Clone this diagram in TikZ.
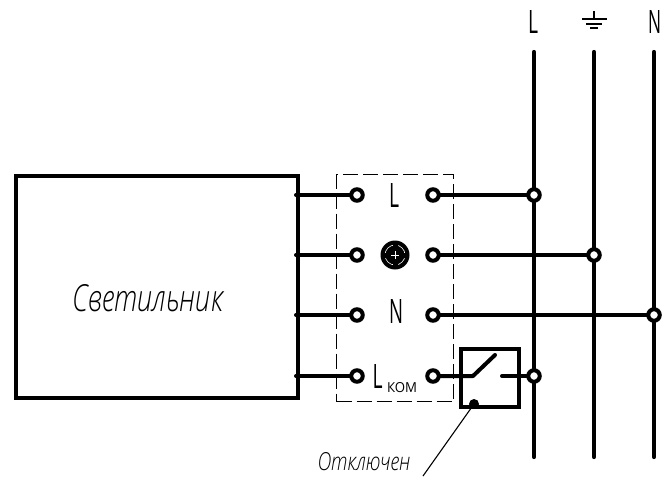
\documentclass[tikz,border=0pt]{standalone}
\usepackage{fontspec}
\setmainfont{Open Sans}
\newfontfamily\gost{Open Sans Light}[ItalicFont={Open Sans Light Italic}]
\tikzset{
 x=1pt,y=-1pt,
 wire/.style={line width=4pt,line cap=round,line join=round,black},
 bus/.style={line width=4.2pt,line cap=round,black},
 term/.style={circle,draw=black,line width=4pt,fill=white,minimum size=11.5pt,inner sep=0pt},
 lbl/.style={inner sep=0pt},
 ilbl/.style={inner sep=0pt,font=\gost},
}
\newcommand{\fit}[3]{\resizebox{#1pt}{#2pt}{#3}}
\begin{document}
\begin{tikzpicture}
\useasboundingbox (0,0) rectangle (663,476);
% buses
\coordinate (bLt) at (534,52); \coordinate (bLb) at (534,457);
\coordinate (bEt) at (594,52); \coordinate (bEb) at (594,457);
\coordinate (bNt) at (654,52); \coordinate (bNb) at (654,457);
\draw[bus] (bLt)--(bLb); \draw[bus] (bEt)--(bEb); \draw[bus] (bNt)--(bNb);
% luminaire
\node[draw=black,line width=4pt,minimum width=282pt,minimum height=222pt,inner sep=0pt,anchor=north west] (lum) at (14,174) {};
\node[ilbl] (lumt) at (148,298) {\fit{151}{27}{\itshape Светильник}};
% dashed
\node[draw=black,line width=1.1pt,dash pattern=on 15pt off 5pt,minimum width=117pt,minimum height=227pt,inner sep=0pt,anchor=north west] (dbox) at (336,174) {};
% terminals
\foreach \n/\y in {a/195,b/255,c/315,d/376}{
 \coordinate (lw\n) at (296,\y);
 \node[term] (tl\n) at (357,\y) {};
 \node[term] (tr\n) at (433,\y) {};
 \draw[wire] (lw\n) -- (tl\n);
}
% junctions
\node[term] (jL) at (534,195) {};
\node[term] (jE) at (594,255) {};
\node[term] (jN) at (654,315) {};
\node[term] (jK) at (534,376) {};
\draw[wire] (tra)--(jL);
\draw[wire] (trb)--(jE);
\draw[wire] (trc)--(jN);
% switch
\node[draw=black,line width=4pt,minimum width=58pt,minimum height=58pt,inner sep=0pt,anchor=north west] (sw) at (459,347) {};
\coordinate (s1) at (473,376); \coordinate (s2) at (495,355); \coordinate (s3) at (502,376);
\draw[wire] (trd)--(s1)--(s2);
\draw[wire] (s3)--(jK);
\node[circle,fill=black,minimum size=10pt,inner sep=0pt] (dot) at (474,404) {};
\coordinate (lead) at (423,476);
\draw[line width=1.1pt] (dot)--(lead);
\node[ilbl] (off) at (364,462) {\fit{93}{18}{\itshape Отключен}};
% earth terminal
\node[circle,fill=black,minimum size=29pt,inner sep=0pt] (et) at (395,255) {};
\draw[white,line width=.6pt] (et.center) circle (10pt);
\draw[black,line width=5pt] (383,255)--(407,255) (395,243)--(395,267);
\draw[white,line width=.6pt] (391,255)--(399,255) (395,251)--(395,259);
% labels
\node[lbl] (tL) at (533,22.5) {\fit{10}{23}{L}};
\node[lbl] (tN) at (654.5,22.5) {\fit{13}{23}{N}};
\node[lbl] (kL) at (394,195) {\fit{10}{24}{L}};
\node[lbl] (kN) at (396,311.5) {\fit{14}{24}{N}};
\node[lbl] (kK) at (377.5,376) {\fit{10}{24}{L}};
\node[lbl] (kom) at (402,388) {\fit{30}{10}{КОМ}};
% earth symbol top
\coordinate (g0) at (594,11); \coordinate (g1) at (594,19);
\draw[line width=1.2pt] (g0)--(g1) (582,19)--(607,19) (586,24)--(602,24) (590,28)--(598,28);
\end{tikzpicture}
\end{document}
